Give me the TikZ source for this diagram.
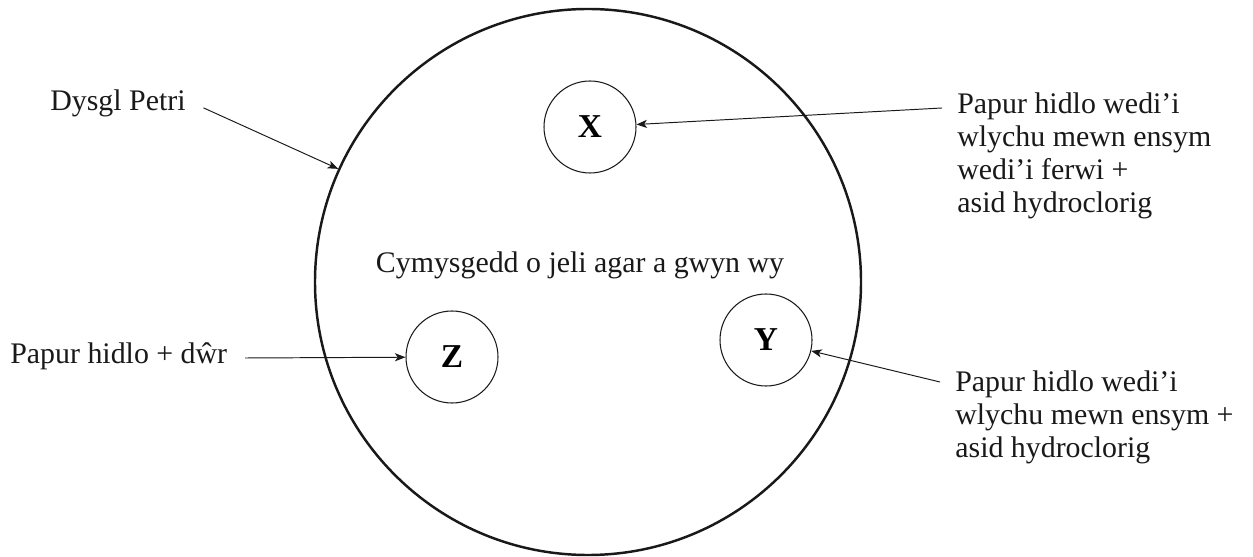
\documentclass[tikz,border=0pt]{standalone}
\usepackage{fontspec}
\setmainfont{Liberation Serif}
\usetikzlibrary{arrows.meta,positioning}

\begin{document}
\begin{tikzpicture}[
  x=0.2mm, y=-0.2mm,
  dish/.style={draw=black!90, line width=1.4pt, circle, minimum size=109.2mm, inner sep=0pt},
  disc/.style={draw=black!90, line width=0.6pt, circle, minimum size=18.4mm, inner sep=0pt,
               font=\fontsize{19}{21}\selectfont\bfseries},
  lbl/.style={font=\fontsize{17}{18.8}\selectfont, text=black!90, inner sep=0pt, align=left},
  ar/.style={-{Stealth[length=6pt,width=4.6pt,inset=1.6pt]}, line width=0.55pt, black!90},
]
\useasboundingbox (0,0) rectangle (1253,557);

% Petri dish and the three discs
\node[dish] (dish) at (588,282) {};
\node[disc] (dx) at (590,127) {X};
\node[disc] (dy) at (766,340) {Y};
\node[disc] (dz) at (452,357) {Z};
\node[lbl, anchor=base] (agar) at (580,273) {Cymysgedd o jeli agar a gwyn wy};

% Labels on the left
\node[lbl, anchor=base west] (petri) at (50,111) {Dysgl Petri};
\node[lbl, anchor=base west] (water) at (10,364) {Papur hidlo + dŵr};

% Labels on the right
\node[lbl, anchor=north west] (boiled) at (957,92)
  {Papur hidlo wedi’i\\wlychu mewn ensym\\wedi’i ferwi +\\asid hydroclorig};
\node[lbl, anchor=north west] (enzyme) at (955,370)
  {Papur hidlo wedi’i\\wlychu mewn ensym +\\asid hydroclorig};

% Arrow tails
\coordinate (petritail) at ([xshift=3.5mm,yshift=-0.8mm]petri.east);
\coordinate (watertail) at ([xshift=3.5mm,yshift=1.2mm]water.base east);
\coordinate (boiledtail) at ([xshift=-3mm,yshift=-3.2mm]boiled.north west);
\coordinate (enzymetail) at ([xshift=-3mm,yshift=-2.4mm]enzyme.north west);

\draw[ar] (petritail) -- (dish);
\draw[ar] (watertail) -- (dz);
\draw[ar] (boiledtail) -- (dx);
\draw[ar] (enzymetail) -- (dy);
\end{tikzpicture}
\end{document}
